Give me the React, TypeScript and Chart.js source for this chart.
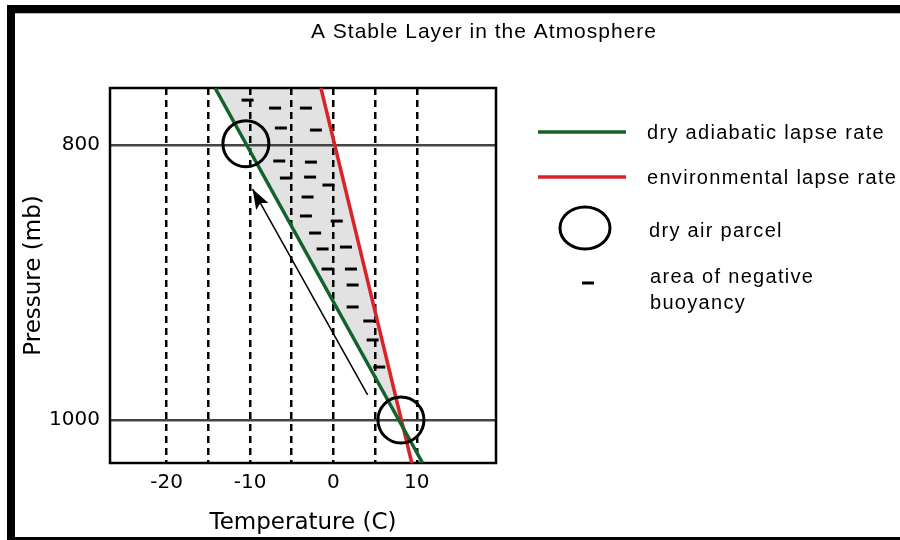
import React, { useEffect, useRef } from 'react';
import { Chart, registerables } from 'chart.js';

Chart.register(...registerables);

// ---------- data ----------
const TITLE = 'A Stable Layer in the Atmosphere';
const X_TITLE = 'Temperature (C)';
const Y_TITLE = 'Pressure (mb)';

const X_MIN = -26.8;
const X_MAX = 19.5;
const Y_MIN = 758.5;
const Y_MAX = 1031.3;

const X_GRID = [-20, -15, -10, -5, 0, 5, 10];
const X_LABELED = [-20, -10, 0, 10];
const Y_TICKS = [800, 1000];

// dry adiabatic lapse rate (green)
const DRY_T = [-14.2, 10.7];
const DRY_P = [758.5, 1031.3];
// environmental lapse rate (red)
const ENV_T = [-1.5, 9.4];
const ENV_P = [758.5, 1031.3];
// dry air parcels (circles)
const PARCEL_T = [-10.5, 8.1];
const PARCEL_P = [799, 1000];
// rising-parcel arrow (tail -> tip)
const ARROW_T = [4.1, -9.7];
const ARROW_P = [981.8, 832.0];
// "-" marks : area of negative buoyancy
const NEG_T = [-10.3, -7.0, -3.3, -6.3, -2.1, -6.5, -2.7, -5.7, -2.8, -0.6, -3.1, -3.3, 0.4, -2.2, -1.3, 1.5, -0.7, 2.1, 2.3, 2.3, 4.3, 4.7, 5.5];
const NEG_P = [767.3, 773.1, 773.1, 787.6, 789.1, 811.6, 812.4, 824.0, 823.3, 829.1, 837.8, 851.6, 855.3, 864.0, 875.6, 874.2, 890.2, 890.2, 901.8, 917.8, 928.0, 941.8, 961.5];

const LEGEND_LABELS = ['dry adiabatic lapse rate', 'environmental lapse rate', 'dry air parcel', 'area of negative', 'buoyancy'];

const GREEN = '#14622b';
const RED = '#d9232a';
const SHADE = '#e2e2e2';

const pts = (xs: number[], ys: number[]) => xs.map((x, i) => ({ x, y: ys[i] }));

// intersection of the two lapse-rate lines (data space)
function intersect() {
  const sd = (DRY_T[1] - DRY_T[0]) / (DRY_P[1] - DRY_P[0]);
  const se = (ENV_T[1] - ENV_T[0]) / (ENV_P[1] - ENV_P[0]);
  const p = (ENV_T[0] - DRY_T[0] + sd * DRY_P[0] - se * ENV_P[0]) / (sd - se);
  const t = DRY_T[0] + sd * (p - DRY_P[0]);
  return { t, p };
}

const decor = {
  id: 'decor',
  beforeDraw(chart: any) {
    const { ctx, chartArea: a, scales } = chart;
    const xs = scales.x;
    const ys = scales.y;
    const W = chart.width;
    const H = chart.height;
    ctx.save();
    ctx.fillStyle = '#fff';
    ctx.fillRect(0, 0, W, H);
    // picture frame
    ctx.fillStyle = '#000';
    ctx.fillRect(7, 5, W - 7, 8);
    ctx.fillRect(7, 5, 8, H - 5);
    ctx.fillRect(7, H - 3, W - 7, 3);
    ctx.fillStyle = '#bbb';
    ctx.fillRect(15, 13, W - 15, 1);
    // shaded area between the lines
    const it = intersect();
    ctx.beginPath();
    ctx.rect(a.left, a.top, a.right - a.left, a.bottom - a.top);
    ctx.clip();
    ctx.beginPath();
    ctx.moveTo(xs.getPixelForValue(DRY_T[0]), ys.getPixelForValue(DRY_P[0]));
    ctx.lineTo(xs.getPixelForValue(ENV_T[0]), ys.getPixelForValue(ENV_P[0]));
    ctx.lineTo(xs.getPixelForValue(it.t), ys.getPixelForValue(it.p));
    ctx.closePath();
    ctx.fillStyle = SHADE;
    ctx.fill();
    ctx.restore();
  },
  beforeDatasetsDraw(chart: any) {
    const { ctx, chartArea: a } = chart;
    ctx.save();
    ctx.strokeStyle = '#000';
    ctx.lineWidth = 2.5;
    ctx.strokeRect(a.left, a.top, a.right - a.left, a.bottom - a.top);
    ctx.restore();
  },
  afterDatasetsDraw(chart: any) {
    const { ctx, scales } = chart;
    const xs = scales.x;
    const ys = scales.y;
    const tx = xs.getPixelForValue(ARROW_T[1]);
    const ty = ys.getPixelForValue(ARROW_P[1]);
    const sx = xs.getPixelForValue(ARROW_T[0]);
    const sy = ys.getPixelForValue(ARROW_P[0]);
    const len = Math.hypot(tx - sx, ty - sy);
    const ux = (tx - sx) / len;
    const uy = (ty - sy) / len;
    const nx = -uy;
    const ny = ux;
    const L = 20;
    const Wd = 7;
    ctx.save();
    ctx.fillStyle = '#000';
    ctx.beginPath();
    ctx.moveTo(tx, ty);
    ctx.lineTo(tx - ux * L + nx * Wd, ty - uy * L + ny * Wd);
    ctx.lineTo(tx - ux * L * 0.8, ty - uy * L * 0.8);
    ctx.lineTo(tx - ux * L - nx * Wd, ty - uy * L - ny * Wd);
    ctx.closePath();
    ctx.fill();
    ctx.restore();
  },
  afterDraw(chart: any) {
    const { ctx } = chart;
    ctx.save();
    // title
    ctx.fillStyle = '#000';
    ctx.font = '21px "Liberation Sans", Arial, sans-serif';
    try { (ctx as any).letterSpacing = '1px'; } catch (e) {}
    ctx.textAlign = 'center';
    ctx.textBaseline = 'alphabetic';
    ctx.fillText(TITLE, 484, 38);

    // legend
    ctx.font = '20px "Liberation Sans", Arial, sans-serif';
    try { (ctx as any).letterSpacing = '1.3px'; } catch (e) {}
    ctx.textAlign = 'left';
    ctx.lineCap = 'butt';
    ctx.lineWidth = 3.5;
    ctx.strokeStyle = GREEN;
    ctx.beginPath(); ctx.moveTo(538, 132); ctx.lineTo(626, 132); ctx.stroke();
    ctx.strokeStyle = RED;
    ctx.beginPath(); ctx.moveTo(538, 177); ctx.lineTo(626, 177); ctx.stroke();
    ctx.strokeStyle = '#000';
    ctx.lineWidth = 3;
    ctx.beginPath(); ctx.ellipse(585, 228, 25, 21, 0, 0, Math.PI * 2); ctx.stroke();
    ctx.beginPath(); ctx.moveTo(582, 283); ctx.lineTo(594, 283); ctx.stroke();

    ctx.fillStyle = '#000';
    ctx.fillText(LEGEND_LABELS[0], 647, 139);
    ctx.fillText(LEGEND_LABELS[1], 647, 184);
    ctx.fillText(LEGEND_LABELS[2], 649, 237);
    ctx.fillText(LEGEND_LABELS[3], 650, 283);
    ctx.fillText(LEGEND_LABELS[4], 650, 309);
    ctx.restore();
  },
};

export default function App() {
  const ref = useRef<HTMLCanvasElement | null>(null);

  useEffect(() => {
    if (!ref.current) return;
    const tickFont = { family: '"DejaVu Sans", sans-serif', size: 20 };
    const titleFont = { family: '"DejaVu Sans", sans-serif', size: 23 };
    const chart = new Chart(ref.current, {
      type: 'scatter',
      data: {
        datasets: [
          {
            label: 'dry air parcel',
            data: pts(PARCEL_T, PARCEL_P),
            pointStyle: 'circle',
            pointRadius: 23,
            pointBorderWidth: 3,
            pointBorderColor: '#000',
            pointBackgroundColor: 'rgba(0,0,0,0)',
            showLine: false,
          },
          {
            label: 'parcel path',
            data: pts(ARROW_T, ARROW_P),
            showLine: true,
            borderColor: '#000',
            borderWidth: 1.5,
            pointRadius: 0,
          },
          {
            label: 'area of negative buoyancy',
            data: pts(NEG_T, NEG_P),
            pointStyle: 'line',
            pointRadius: 6,
            pointBorderWidth: 3,
            pointBorderColor: '#000',
            showLine: false,
          },
          {
            label: 'dry adiabatic lapse rate',
            data: pts(DRY_T, DRY_P),
            showLine: true,
            borderColor: GREEN,
            borderWidth: 3.5,
            pointRadius: 0,
          },
          {
            label: 'environmental lapse rate',
            data: pts(ENV_T, ENV_P),
            showLine: true,
            borderColor: RED,
            borderWidth: 3.5,
            pointRadius: 0,
          },
        ],
      },
      options: {
        responsive: false,
        animation: false,
        devicePixelRatio: 1,
        events: [],
        layout: { padding: { left: 0, right: 404, top: 88, bottom: 0 } },
        plugins: {
          legend: { display: false },
          tooltip: { enabled: false },
          title: { display: false },
        },
        scales: {
          x: {
            type: 'linear',
            min: X_MIN,
            max: X_MAX,
            afterBuildTicks: (s: any) => {
              s.ticks = X_GRID.map((v) => ({ value: v }));
            },
            afterFit: (s: any) => {
              s.height = 77;
            },
            ticks: {
              autoSkip: false,
              maxRotation: 0,
              padding: 8,
              color: '#000',
              font: tickFont,
              callback: (v: any) => (X_LABELED.includes(Number(v)) ? String(v) : ''),
            },
            grid: { color: '#000', lineWidth: 2.5, drawTicks: false },
            border: { display: false, dash: [7, 5] },
            title: {
              display: true,
              text: X_TITLE,
              color: '#000',
              font: titleFont,
              padding: { top: 0, bottom: 3 },
            },
          },
          y: {
            type: 'linear',
            reverse: true,
            min: Y_MIN,
            max: Y_MAX,
            afterBuildTicks: (s: any) => {
              s.ticks = Y_TICKS.map((v) => ({ value: v }));
            },
            afterFit: (s: any) => {
              s.width = 110;
            },
            ticks: {
              padding: 10,
              color: '#000',
              font: tickFont,
              callback: (v: any) => String(v),
            },
            grid: { color: '#444', lineWidth: 2.5, drawTicks: false },
            border: { display: false },
            title: {
              display: true,
              text: Y_TITLE,
              color: '#000',
              font: titleFont,
              padding: { top: 20, bottom: 0 },
            },
          },
        },
      },
      plugins: [decor],
    } as any);
    return () => chart.destroy();
  }, []);

  return (
    <div style={{ position: 'fixed', left: 0, top: 0, width: 900, height: 540, background: '#fff' }}>
      <canvas ref={ref} width={900} height={540} style={{ width: 900, height: 540, display: 'block' }} />
    </div>
  );
}
